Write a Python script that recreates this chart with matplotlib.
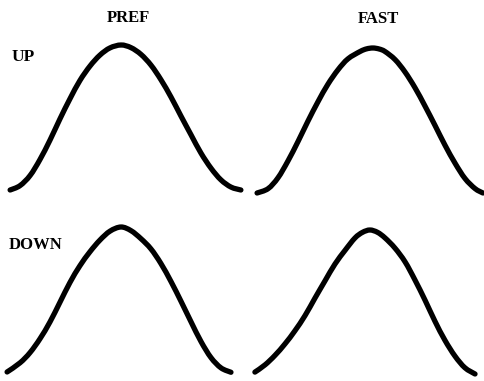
import matplotlib
matplotlib.use("Agg")
import matplotlib.pyplot as plt
from matplotlib.path import Path
from matplotlib.patches import PathPatch
import numpy as np

# Data: % of cycle (x) vs % of peak height (y)
up_pref_x = [0.9, 5.1, 9.4, 13.6, 17.9, 22.1, 26.4, 30.6, 34.9, 39.1, 43.4, 48.1,
             52.3, 56.6, 60.9, 65.1, 69.4, 73.6, 77.9, 82.1, 86.4, 90.6, 94.9, 99.1]
up_pref_y = [0, 3, 10, 21, 34.5, 49, 63, 75.5, 85.5, 93, 98, 100,
             98.2, 93.5, 86, 76, 64, 51, 38, 25.5, 15, 7, 2, 0]

up_fast_x = [0.9, 5.7, 10.0, 14.3, 18.7, 23.0, 27.4, 31.7, 36.1, 40.4, 45.7, 48.5, 51.3,
             54.0, 56.5, 60.9, 65.2, 69.6, 73.9, 78.3, 82.6, 87.0, 91.3, 95.7, 99.1]
up_fast_y = [0, 3, 10.5, 22, 35.5, 49.5, 63, 75, 85, 92.5, 97.6, 99.4, 100,
             99.3, 97.6, 92, 83.5, 72.5, 60, 46.5, 33, 20.5, 10, 3, 0]

down_pref_x = [0.9, 6.5, 10.8, 15.1, 19.4, 23.7, 28.0, 32.3, 36.6, 40.9, 45.3, 50.0,
               54.3, 58.6, 62.9, 67.2, 71.6, 75.9, 80.2, 84.5, 88.8, 93.1, 97.4]
down_pref_y = [0.7, 7, 14, 23.5, 35, 48.5, 62, 73.5, 83, 91, 97.2, 100,
               97.5, 92, 85, 75, 62.5, 49, 35, 21.5, 10.5, 3.5, 0.5]

down_fast_x = [1.7, 6.1, 10.4, 14.8, 19.1, 23.5, 27.8, 32.2, 36.5, 40.9, 45.2, 48.5, 51.7,
               55.0, 58.3, 62.6, 67.0, 71.3, 75.7, 80.0, 84.3, 88.7, 93.0, 97.4]
down_fast_y = [2, 7, 13.5, 21.5, 30.5, 41, 53, 65, 76.5, 86, 94.5, 98.4, 100,
               98.4, 94.5, 87.5, 78, 65.5, 51.5, 37, 24, 13, 5, 0.7]

col_titles = ["PREF", "FAST"]
row_titles = ["UP", "DOWN"]

W, H = 485, 381
fig = plt.figure(figsize=(W / 100, H / 100), dpi=100)
fig.patch.set_facecolor("white")

# panel boxes in pixels: (left, right, base_y, peak_y)
boxes = {
    (0, 0): (8, 243, 190, 45),
    (0, 1): (255, 485, 193, 48),
    (1, 0): (5, 237, 373, 227),
    (1, 1): (251, 481, 375, 230),
}
series = {
    (0, 0): (up_pref_x, up_pref_y),
    (0, 1): (up_fast_x, up_fast_y),
    (1, 0): (down_pref_x, down_pref_y),
    (1, 1): (down_fast_x, down_fast_y),
}


def smooth_path(xs, ys):
    pts = np.column_stack([xs, ys]).astype(float)
    verts = [pts[0]]
    codes = [Path.MOVETO]
    n = len(pts)
    for i in range(n - 1):
        p0 = pts[max(i - 1, 0)]
        p1 = pts[i]
        p2 = pts[i + 1]
        p3 = pts[min(i + 2, n - 1)]
        c1 = p1 + (p2 - p0) / 6.0
        c2 = p2 - (p3 - p1) / 6.0
        verts += [c1, c2, p2]
        codes += [Path.CURVE4] * 3
    return Path(verts, codes)


for key, (l, r, base, peak) in boxes.items():
    ax = fig.add_axes([l / W, (H - base) / H, (r - l) / W, (base - peak) / H])
    ax.set_xlim(0, 100)
    ax.set_ylim(0, 100)
    ax.axis("off")
    xs, ys = series[key]
    p = smooth_path(xs, ys)
    ax.add_patch(PathPatch(p, facecolor="none", edgecolor="black", lw=3.8,
                           capstyle="round", joinstyle="round", clip_on=False))

font = dict(family="Liberation Serif", weight="bold", color="black")
fig.text(128 / W, 1 - 18 / H, col_titles[0], ha="center", va="center", fontsize=12, **font)
fig.text(378 / W, 1 - 19 / H, col_titles[1], ha="center", va="center", fontsize=12, **font)
fig.text(12 / W, 1 - 57 / H, row_titles[0], ha="left", va="center", fontsize=12.5, **font)
fig.text(9 / W, 1 - 245 / H, row_titles[1], ha="left", va="center", fontsize=12, **font)

fig.savefig("out.png", dpi=100, facecolor="white")
